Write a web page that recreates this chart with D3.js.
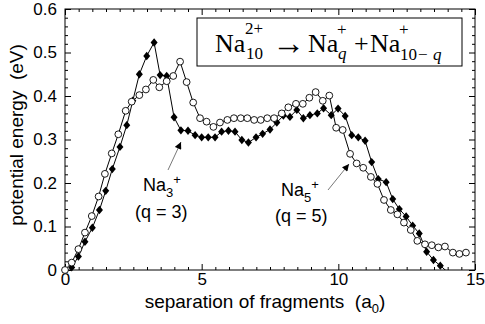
<!DOCTYPE html>
<html>
<head>
<meta charset="utf-8">
<script src="https://d3js.org/d3.v7.min.js"></script>
<style>
  body { margin: 0; background: #fff; }
  svg { display: block; }
  text { font-family: "Liberation Sans", Arial, sans-serif; fill: #000; }
  .serif text { font-family: "Liberation Serif", "Times New Roman", serif; }
</style>
</head>
<body>
<div id="chart"></div>
<script>

// q = 3 (filled diamonds)
var q3X = [0.245, 0.49, 0.73, 1.00, 1.26, 1.49, 1.73, 2.01, 2.26, 2.48, 2.72, 2.99, 3.26, 3.48, 3.72,
           3.99, 4.24, 4.50, 4.76, 5.00, 5.24, 5.49, 5.73, 5.98, 6.22, 6.47, 6.71, 6.99, 7.23, 7.50,
           7.75, 7.99, 8.23, 8.48, 8.72, 8.96, 9.23, 9.46, 9.74, 9.99, 10.25, 10.49, 10.73, 10.98,
           11.22, 11.46, 11.75, 11.99, 12.23, 12.48, 12.72, 12.96, 13.23, 13.48, 13.73, 14.22];
var q3Y = [0.006, 0.031, 0.065, 0.097, 0.138, 0.182, 0.232, 0.283, 0.333, 0.389, 0.450, 0.492, 0.523, 0.448, 0.446,
           0.351, 0.321, 0.320, 0.310, 0.305, 0.305, 0.305, 0.318, 0.320, 0.318, 0.299, 0.293, 0.305, 0.313, 0.323,
           0.339, 0.355, 0.352, 0.368, 0.349, 0.356, 0.360, 0.372, 0.356, 0.371, 0.354, 0.310, 0.305, 0.297,
           0.248, 0.209, 0.202, 0.163, 0.140, 0.123, 0.102, 0.084, 0.042, 0.023, 0.010, -0.017];

// q = 5 (open circles)
var q5X = [0, 0.245, 0.49, 0.73, 0.98, 1.23, 1.46, 1.71, 1.95, 2.22, 2.44, 2.72, 2.96, 3.23, 3.45,
           3.72, 3.96, 4.21, 4.45, 4.69, 4.94, 5.18, 5.43, 5.67, 5.94, 6.18, 6.43, 6.67, 6.92, 7.16,
           7.40, 7.65, 7.93, 8.17, 8.45, 8.70, 8.94, 9.17, 9.43, 9.67, 9.92, 10.16, 10.43, 10.67, 10.91,
           11.19, 11.43, 11.67, 11.92, 12.16, 12.40, 12.65, 12.89, 13.17, 13.42, 13.66, 13.90, 14.19, 14.43, 14.67];
var q5Y = [0, 0.017, 0.048, 0.086, 0.124, 0.169, 0.221, 0.268, 0.312, 0.366, 0.387, 0.402, 0.415, 0.437, 0.420,
           0.434, 0.446, 0.479, 0.432, 0.385, 0.349, 0.341, 0.329, 0.339, 0.345, 0.349, 0.349, 0.349, 0.345, 0.345,
           0.349, 0.349, 0.360, 0.374, 0.382, 0.382, 0.396, 0.409, 0.389, 0.401, 0.327, 0.322, 0.267, 0.245, 0.235,
           0.214, 0.198, 0.161, 0.138, 0.128, 0.109, 0.092, 0.067, 0.059, 0.057, 0.052, 0.054, 0.040, 0.037, 0.040];

var xTicks = [0, 5, 10, 15];
var xTickLabels = ["0", "5", "10", "15"];
var yTicks = [0, 0.1, 0.2, 0.3, 0.4, 0.5, 0.6];
var yTickLabels = ["0", "0.1", "0.2", "0.3", "0.4", "0.5", "0.6"];

createChart();

function createChart() {
  var width = 485;
  var height = 324;
  var marginleft = 65;
  var marginright = 10;
  var margintop = 9;
  var marginbottom = 54;

  var xScale = d3.scaleLinear()
    .domain([0, 15])
    .range([marginleft, width - marginright]);

  var yScale = d3.scaleLinear()
    .domain([0, 0.6])
    .range([height - marginbottom, margintop]);

  var svg = d3.select("#chart")
    .append("svg")
    .attr("width", width)
    .attr("height", height);

  var xMinor = d3.range(0, 15.01, 0.5).filter(function (v) { return v % 5 !== 0; });
  var yMinor = d3.range(0, 0.601, 0.02).filter(function (v) { return Math.abs(v * 10 - Math.round(v * 10)) > 0.01; });

  function styleAxis(g) {
    g.select(".domain").remove();
    g.selectAll("line").attr("stroke", "#000").attr("stroke-width", 1);
    g.selectAll("text").style("font-size", "17px").attr("fill", "#000");
  }

  // bottom
  svg.append("g")
    .attr("transform", "translate(0," + (height - marginbottom) + ")")
    .call(d3.axisBottom(xScale).tickValues(xTicks).tickSize(-6).tickPadding(3)
      .tickFormat(function (d, i) { return xTickLabels[i]; }))
    .call(styleAxis);
  svg.append("g")
    .attr("transform", "translate(0," + (height - marginbottom) + ")")
    .call(d3.axisBottom(xScale).tickValues(xMinor).tickSize(-3).tickFormat(""))
    .call(styleAxis);
  // top
  svg.append("g")
    .attr("transform", "translate(0," + margintop + ")")
    .call(d3.axisTop(xScale).tickValues(xTicks).tickSize(-6).tickFormat(""))
    .call(styleAxis);
  svg.append("g")
    .attr("transform", "translate(0," + margintop + ")")
    .call(d3.axisTop(xScale).tickValues(xMinor).tickSize(-3).tickFormat(""))
    .call(styleAxis);
  // left
  svg.append("g")
    .attr("transform", "translate(" + marginleft + ",0)")
    .call(d3.axisLeft(yScale).tickValues(yTicks).tickSize(-6).tickPadding(8)
      .tickFormat(function (d, i) { return yTickLabels[i]; }))
    .call(styleAxis);
  svg.append("g")
    .attr("transform", "translate(" + marginleft + ",0)")
    .call(d3.axisLeft(yScale).tickValues(yMinor).tickSize(-3).tickFormat(""))
    .call(styleAxis);
  // right
  svg.append("g")
    .attr("transform", "translate(" + (width - marginright) + ",0)")
    .call(d3.axisRight(yScale).tickValues(yTicks).tickSize(-6).tickFormat(""))
    .call(styleAxis);
  svg.append("g")
    .attr("transform", "translate(" + (width - marginright) + ",0)")
    .call(d3.axisRight(yScale).tickValues(yMinor).tickSize(-3).tickFormat(""))
    .call(styleAxis);

  // frame
  svg.append("rect")
    .attr("x", marginleft).attr("y", margintop)
    .attr("width", width - marginleft - marginright)
    .attr("height", height - margintop - marginbottom)
    .attr("fill", "none").attr("stroke", "#000").attr("stroke-width", 1);

  svg.append("clipPath").attr("id", "clip")
    .append("rect")
    .attr("x", marginleft).attr("y", margintop)
    .attr("width", width - marginleft - marginright)
    .attr("height", height - margintop - marginbottom);

  var plot = svg.append("g").attr("clip-path", "url(#clip)");
  var marks = svg.append("g");

  var line = d3.line()
    .x(function (d) { return xScale(d[0]); })
    .y(function (d) { return yScale(d[1]); });

  var q3 = q3X.map(function (x, i) { return [x, q3Y[i]]; });
  var q5 = q5X.map(function (x, i) { return [x, q5Y[i]]; });
  function inside(d) { return d[1] >= 0 && d[0] <= 15; }

  plot.append("path").datum(q3)
    .attr("d", line).attr("fill", "none").attr("stroke", "#000").attr("stroke-width", 1);
  plot.append("path").datum(q5)
    .attr("d", line).attr("fill", "none").attr("stroke", "#000").attr("stroke-width", 1);

  marks.selectAll("path.dia")
    .data(q3.filter(inside))
    .enter()
    .append("path")
    .attr("class", "dia")
    .attr("d", function (d) {
      var cx = xScale(d[0]), cy = yScale(d[1]);
      return "M" + cx + "," + (cy - 4.2) + "L" + (cx + 3.5) + "," + cy +
             "L" + cx + "," + (cy + 4.2) + "L" + (cx - 3.5) + "," + cy + "Z";
    })
    .attr("fill", "#000");

  marks.selectAll("circle")
    .data(q5.filter(inside))
    .enter()
    .append("circle")
    .attr("cx", function (d) { return xScale(d[0]); })
    .attr("cy", function (d) { return yScale(d[1]); })
    .attr("r", 3.4)
    .attr("fill", "#fff")
    .attr("stroke", "#000")
    .attr("stroke-width", 0.9);

  // axis titles
  var xt = svg.append("text")
    .attr("x", 265).attr("y", 308)
    .attr("text-anchor", "middle")
    .style("font-size", "19px");
  xt.append("tspan").text("separation of fragments\u00a0\u00a0(a");
  xt.append("tspan").attr("dy", 5).style("font-size", "13px").text("0");
  xt.append("tspan").attr("dy", -5).text(")");

  svg.append("text")
    .attr("transform", "translate(23," + 135 + ") rotate(-90)")
    .attr("text-anchor", "middle")
    .style("font-size", "19px")
    .text("potential energy\u00a0\u00a0(eV)");

  // equation box
  svg.append("rect")
    .attr("x", 197).attr("y", 18).attr("width", 265).attr("height", 48)
    .attr("fill", "#fff").attr("stroke", "#000").attr("stroke-width", 1);

  var eq = svg.append("g").attr("class", "serif");
  function t(x, y, size, str, italic) {
    eq.append("text").attr("x", x).attr("y", y)
      .style("font-size", size + "px")
      .style("font-style", italic ? "italic" : "normal")
      .text(str);
  }
  t(215, 52, 26, "Na");
  t(245, 34, 17, "2+");
  t(246, 59, 17, "10");
  t(272, 54, 33, "\u2192");
  t(308, 52, 26, "Na");
  t(337, 35, 17, "+");
  t(338, 59, 17, "q", true);
  t(354, 52, 26, "+");
  t(370, 52, 26, "Na");
  t(399, 35, 17, "+");
  t(400, 60, 17, "10");
  t(418, 60, 17, "\u2212");
  t(433, 60, 17, "q", true);

  // annotations
  function label(x, y, sub) {
    var g = svg.append("text").attr("x", x).attr("y", y).style("font-size", "18px");
    g.append("tspan").text("Na");
    g.append("tspan").attr("dy", 6).style("font-size", "13px").text(sub);
    g.append("tspan").attr("dy", -13).style("font-size", "13px").text("+");
  }
  label(143, 191, "3");
  svg.append("text").attr("x", 135).attr("y", 218).style("font-size", "18px").text("(q = 3)");
  label(281, 196, "5");
  svg.append("text").attr("x", 275).attr("y", 222).style("font-size", "18px").text("(q = 5)");

  var defs = svg.append("defs");
  defs.append("marker").attr("id", "arr")
    .attr("viewBox", "0 0 10 10").attr("refX", 10).attr("refY", 5)
    .attr("markerWidth", 9).attr("markerHeight", 7)
    .attr("markerUnits", "userSpaceOnUse")
    .attr("orient", "auto")
    .append("path").attr("d", "M0,0L10,5L0,10Z").attr("fill", "#000");

  svg.append("line")
    .attr("x1", 168).attr("y1", 170).attr("x2", 181).attr("y2", 142)
    .attr("stroke", "#555").attr("stroke-width", 0.8)
    .attr("marker-end", "url(#arr)");
  svg.append("line")
    .attr("x1", 328).attr("y1", 190).attr("x2", 349).attr("y2", 164)
    .attr("stroke", "#555").attr("stroke-width", 0.8)
    .attr("marker-end", "url(#arr)");
}
</script>
</body>
</html>
